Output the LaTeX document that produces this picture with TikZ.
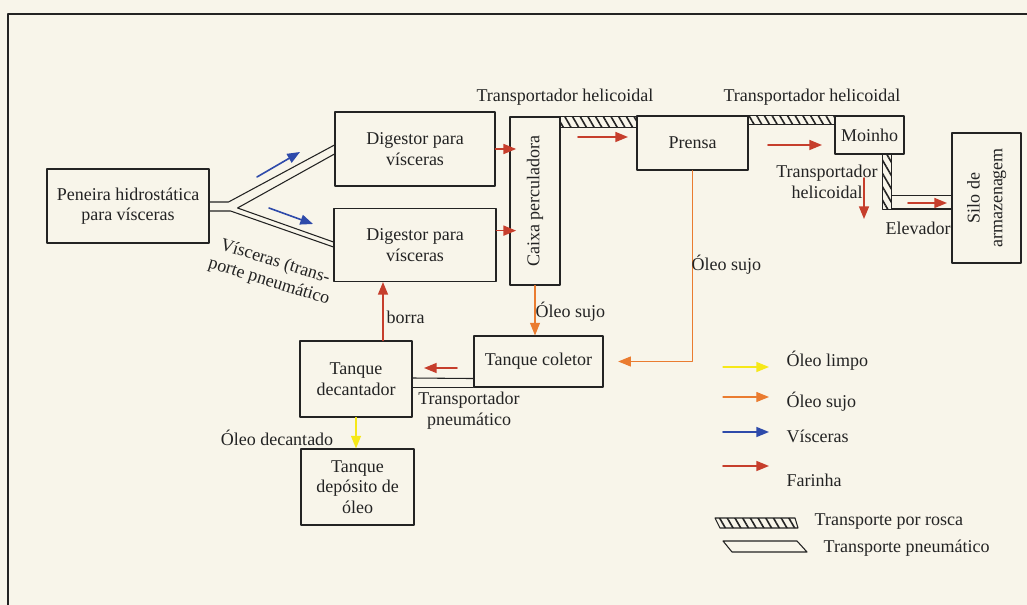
\documentclass[tikz,border=0pt]{standalone}
\usepackage{fontspec}
\setmainfont{Liberation Serif}
\usetikzlibrary{arrows.meta,calc,patterns.meta}
\definecolor{papel}{RGB}{248,245,234}
\definecolor{tinta}{RGB}{35,35,35}
\definecolor{amarelo}{RGB}{246,232,24}
\definecolor{laranja}{RGB}{234,124,48}
\definecolor{azul}{RGB}{46,74,170}
\definecolor{vermelho}{RGB}{198,62,44}

\begin{document}
\begin{tikzpicture}[x=0.75pt, y=-0.75pt, line join=round, line cap=round,
    >={Triangle[length=9.5pt,width=7.5pt]}, font={\fontsize{13.5}{15.5}\selectfont}, color=tinta,
    bloco/.style 2 args={draw, line width=0.8pt, minimum width=#1*0.75pt, minimum height=#2*0.75pt, align=center, inner sep=1pt},
    rosca/.style={draw, line width=0.8pt, pattern={Lines[angle=-60,distance=5pt,line width=1.2pt]}, pattern color=tinta},
    pneu/.style={draw, line width=0.8pt},
    limpo/.style={->, amarelo, line width=1pt},
    sujo/.style={->, laranja, line width=0.8pt},
    visc/.style={->, azul, line width=1.2pt},
    farinha/.style={->, vermelho, line width=1.2pt}]
    \useasboundingbox (0,0) rectangle (1027,605);
    \fill[papel] (0,0) rectangle (1027,605);
    \draw[line width=1.1pt] (8,605) -- (8,14) -- (1027,14);

    \node[bloco={162}{74}] (pen) at (128,206) {Peneira hidrostática\\para vísceras};
    \node[bloco={160}{74}] (dig1) at (415,149) {Digestor para\\vísceras};
    \node[bloco={162}{73}] (dig2) at (415,245) {Digestor para\\vísceras};
    \node[bloco={50}{168}] (perc) at (535,201) {\rotatebox{90}{Caixa perculadora}};
    \node[bloco={111}{54}] (prensa) at (692.5,143) {Prensa};
    \node[bloco={69}{38}] (moinho) at (869.5,135) {Moinho};
    \node[bloco={69}{130}] (silo) at (986.5,198) {\rotatebox{90}{\renewcommand{\arraystretch}{1.1}\begin{tabular}{@{}c@{}}Silo de\\armazenagem\end{tabular}}};
    \node[bloco={129}{51}] (col) at (538.5,361.5) {Tanque coletor};
    \node[bloco={112}{76}] (dec) at (356,379) {Tanque\\decantador};
    \node[bloco={113}{76}] (dep) at (357.5,487) {Tanque\\depósito de\\óleo};

    \draw[rosca] (perc.north east) rectangle ($(prensa.north west)+(0,12)$);
    \draw[rosca] (prensa.north east) rectangle ($(moinho.north west)+(0,9)$);
    \draw[rosca] ($(moinho.south east)+(-22,0)$) rectangle ($(moinho.south east)+(-13,55)$);
    \draw[pneu] ($(moinho.south east)+(-13,41)$) rectangle ($(silo.west)+(0,11)$);
    \draw[pneu] (col.south west) -- (col.south west -| dec.east);
    \draw[pneu] ($(col.south west)+(0,-9)$) -- ($(dec.east)+(0,-1)$);
    \draw[pneu] ($(pen.east)+(0,-4)$) -- ++(19,0) -- ($(dig1.west)+(0,-4)$);
    \draw[pneu] ($(pen.east)+(0,5)$) -- ++(21,0) -- ($(dig2.west)+(0,2)$);
    \draw[pneu] ($(dig1.west)+(0,5)$) -- ($(pen.east)+(28,2)$) -- ($(dig2.west)+(0,-3)$);

    \coordinate (v1a) at (257,177);
    \coordinate (v1b) at (300,152);
    \coordinate (v2a) at (269,208);
    \coordinate (v2b) at (313,224);
    \coordinate (f1a) at (578,137);
    \coordinate (f1b) at (628,137);
    \coordinate (f2a) at (768,145);
    \coordinate (f2b) at (822,145);
    \coordinate (f3a) at (864,178);
    \coordinate (f3b) at (864,219);
    \coordinate (f4a) at (908,203);
    \coordinate (f4b) at (947,203);
    \coordinate (f5a) at (457,368);
    \coordinate (f5b) at (424,368);

    \draw[visc] (v1a) -- (v1b);
    \draw[visc] (v2a) -- (v2b);
    \draw[farinha, shorten >=-5pt] (dig1.east) -- (dig1.east -| perc.west);
    \draw[farinha, shorten >=-5pt] (dig2.10) -- (dig2.10 -| perc.west);
    \foreach \i in {1,...,5} {
        \draw[farinha] (f\i a) -- (f\i b);
    }
    \draw[farinha] (dec.55) -- (dec.55 |- dig2.south);
    \draw[sujo] (perc.south) -- (perc.south |- col.north);
    \draw[sujo] (prensa.south) |- ([xshift=11pt]col.east);
    \draw[limpo] (dec.south) -- (dec.south |- dep.north);

    \node (th1) at (565,97) {Transportador helicoidal};
    \node (th2) at (812,97) {Transportador helicoidal};
    \node[align=center] (th3) at (827,182) {Transportador\\helicoidal};
    \node (elev) at (918,228) {Elevador};
    \node[anchor=west] (os1) at (687,265) {Óleo sujo};
    \node[anchor=west] (os2) at (531,312) {Óleo sujo};
    \node[anchor=west] (borra) at (382,317) {borra};
    \node[align=center] (tp) at (469,411) {Transportador\\pneumático};
    \node (odec) at (277,438) {Óleo decantado};
    \node[rotate=-17, align=center] (vtp) at (272,272) {Vísceras (trans-\\porte pneumático};

    \foreach \s/\ya/\yt/\txt in {limpo/367/361/Óleo limpo, sujo/397/402/Óleo sujo, visc/432/436/Vísceras, farinha/466/480/Farinha} {
        \coordinate (leg\s a) at (723,\ya);
        \coordinate (leg\s b) at (769,\ya);
        \draw[\s] (leg\s a) -- (leg\s b);
        \node[anchor=west] (leg\s) at (782,\yt) {\txt};
    }
    \draw[rosca] (715,518) -- (795,518) -- (798,528) -- (720,528) -- cycle;
    \draw[pneu] (723,541) -- (797,541) -- (807,552) -- (732,552) -- cycle;
    \node[anchor=west] (legrosca) at (810,522) {Transporte por rosca};
    \node[anchor=west] (legpneu) at (819,548) {Transporte pneumático};
\end{tikzpicture}
\end{document}
